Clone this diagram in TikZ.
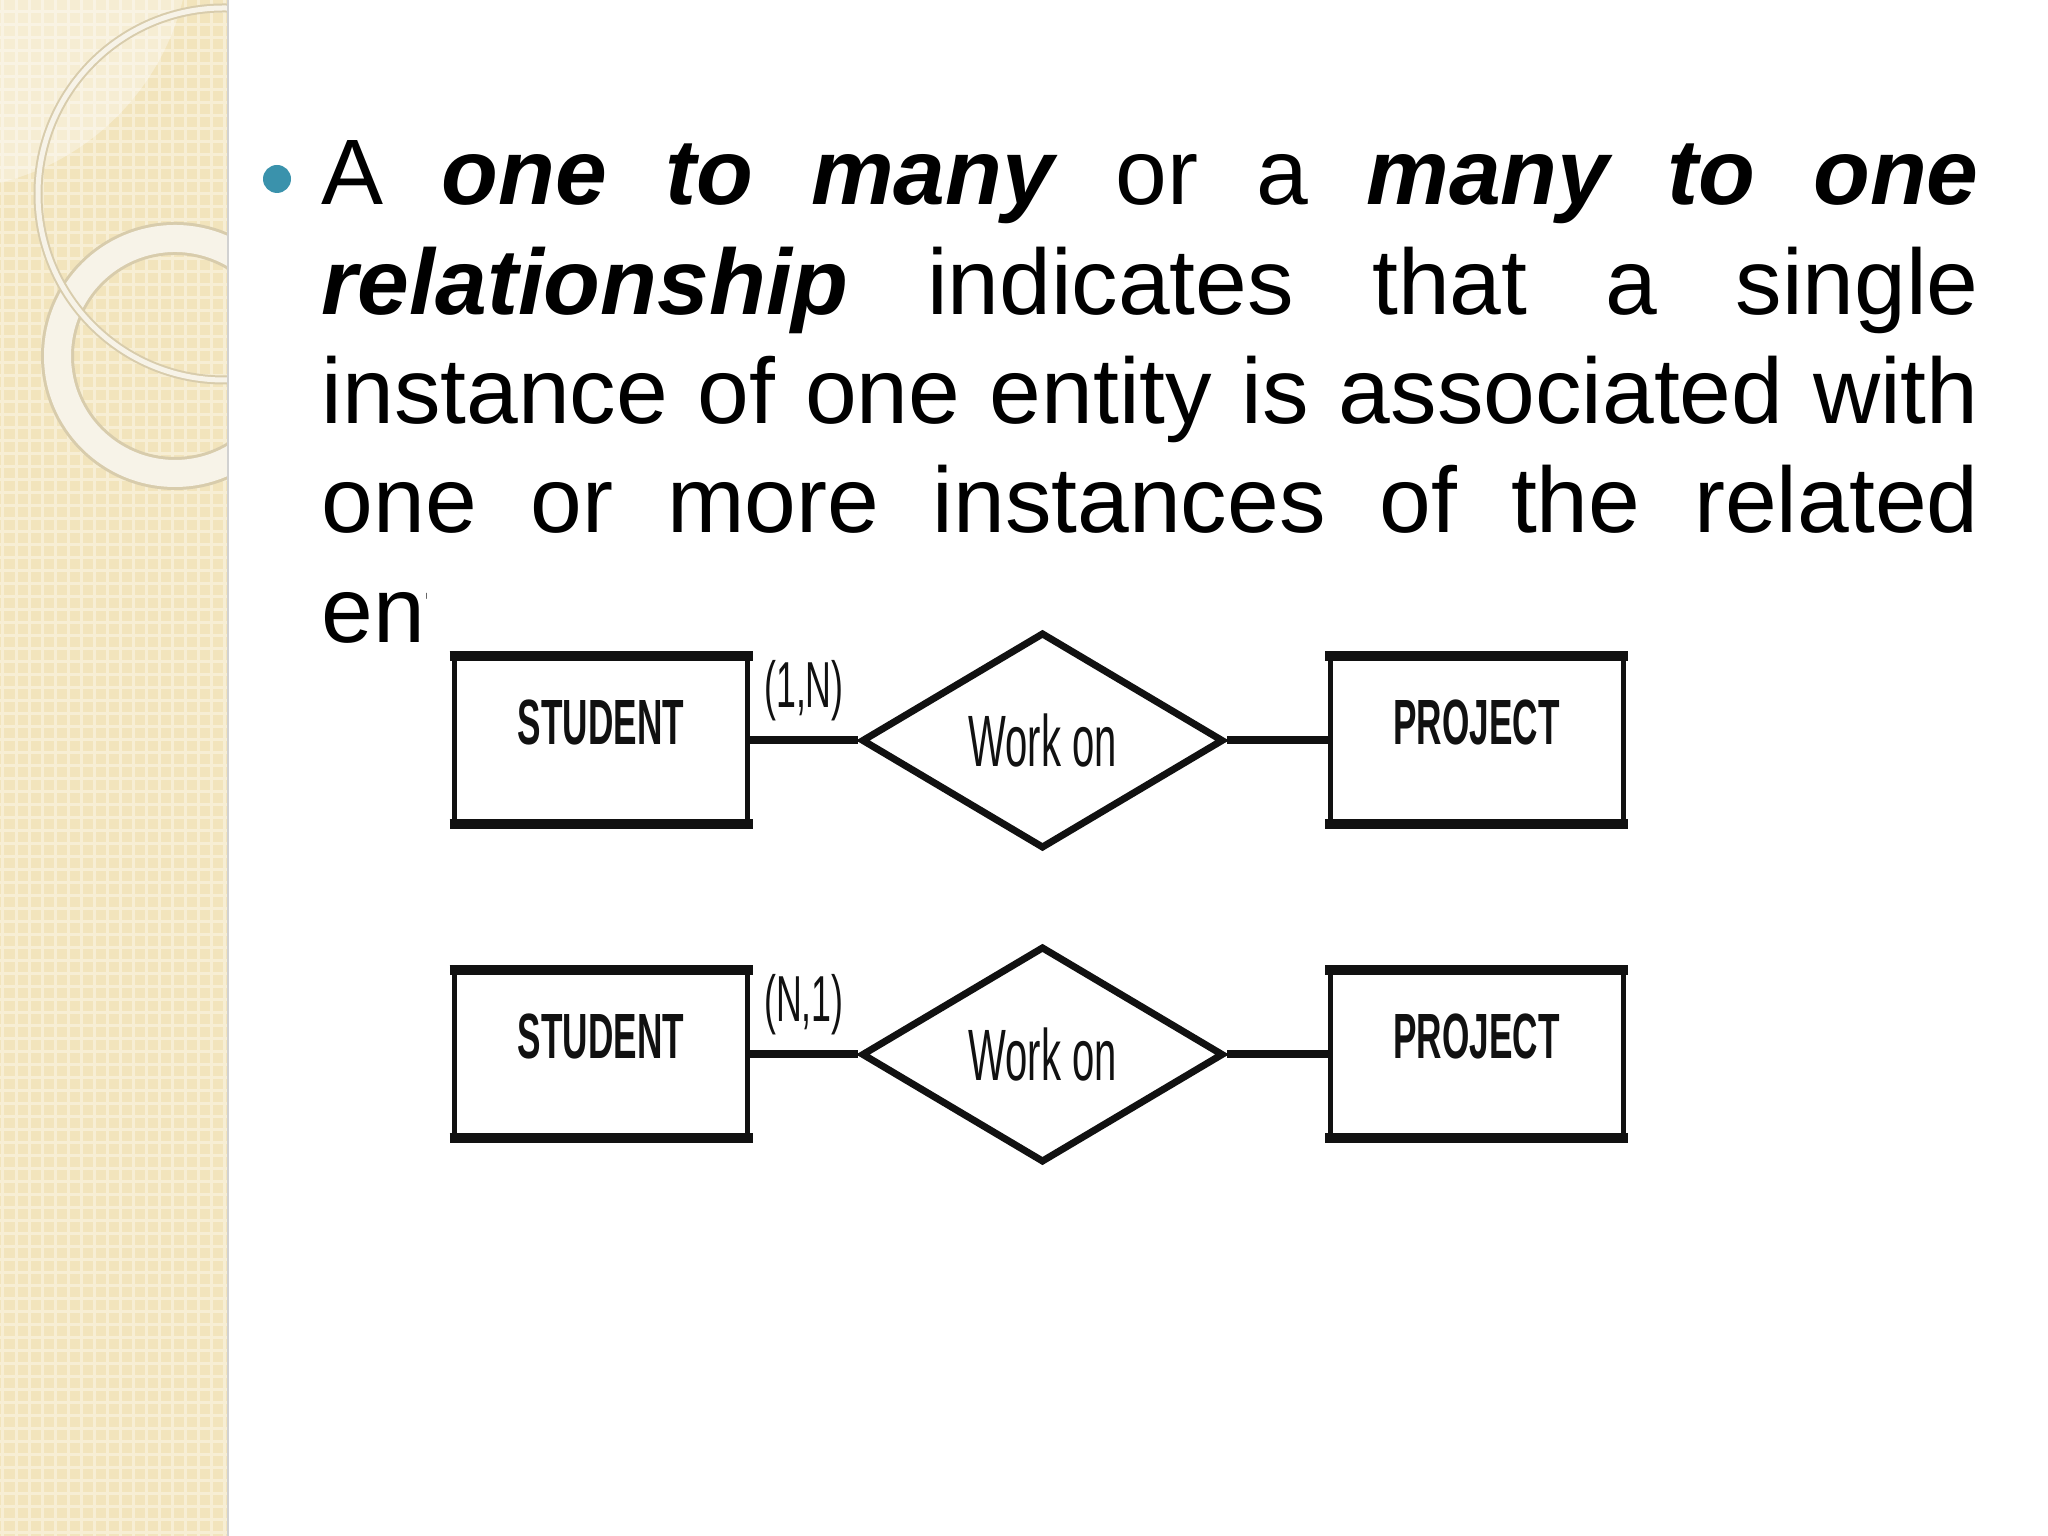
\documentclass[tikz,border=0pt]{standalone}
\usepackage{fontspec}
\setmainfont{Liberation Sans}
\newfontfamily\erfont[FakeStretch=0.55]{Liberation Sans}
\usetikzlibrary{shapes.geometric,positioning}

\definecolor{barbeige}{RGB}{242,228,188}
\definecolor{barlight}{RGB}{247,238,212}
\definecolor{ringcream}{RGB}{247,243,232}
\definecolor{ringedge}{RGB}{216,204,172}
\definecolor{bullteal}{RGB}{58,146,172}
\definecolor{erink}{RGB}{17,17,17}

\tikzset{
  entity/.style={draw=erink, line width=0.05cm, minimum width=2.93cm, minimum height=1.63cm,
    inner sep=0, text=erink, text height=0.46cm, text depth=0.37cm,
    font=\erfont\bfseries\fontsize{18.2}{20}\selectfont},
  relation/.style={diamond, draw=erink, line width=0.07cm, minimum width=3.62cm,
    minimum height=2.16cm, inner sep=0, text=erink, font=\erfont\fontsize{20.7}{22}\selectfont},
  card/.style={inner sep=0, text=erink, font=\erfont\fontsize{18.5}{20}\selectfont},
  link/.style={draw=erink, line width=0.08cm},
  lid/.style={draw=erink, line width=0.1cm, shorten <=-0.025cm, shorten >=-0.025cm},
}

\begin{document}
\begin{tikzpicture}

\useasboundingbox (0,0) rectangle (20.48,15.36);
\fill[white] (0,0) rectangle (20.48,15.36); % Slide background

% Side bar with its rings
\fill[barbeige] (0,0) rectangle (2.27,15.36);
\begin{scope}
\clip (0,0) rectangle (2.27,15.36);
\foreach \x in {0.03,0.16,...,2.3} \draw[barlight, line width=0.03cm] (\x,0) -- (\x,15.36);
\foreach \y in {0.03,0.16,...,15.4} \draw[barlight, line width=0.03cm] (0,\y) -- (2.27,\y);
\fill[white, opacity=0.35] (-0.6,15.96) circle (2.5); % Light patch - Top left
\draw[ringedge, line width=0.33cm] (1.75,11.80) circle (1.175); % Wide ring
\draw[ringcream, line width=0.27cm] (1.75,11.80) circle (1.175);
\draw[ringedge, line width=0.09cm] (2.24,13.42) circle (1.86); % Thin ring
\draw[ringcream, line width=0.05cm] (2.24,13.42) circle (1.86);
\end{scope}
\draw[black!18, line width=0.02cm] (2.28,0) -- (2.28,15.36); % Bar edge

% Bullet and body text
\fill[bullteal] (2.77,13.57) circle (0.14);
\node[anchor=base west, inner sep=0] (body) at (3.21,13.31) {\parbox[t]{16.57cm}{%
  \fontsize{26.46}{31.1}\selectfont\hyphenpenalty=10000
  A \textbf{\textit{one to many}} or a \textbf{\textit{many to one}}\linebreak
  \textbf{\textit{relationship}} indicates that a single\linebreak
  instance of one entity is associated with\linebreak
  one or more instances of the related\linebreak
  entity.}};

% Picture area (covers the end of the text)
\fill[white] (4.27,0.3) rectangle (16.7,9.79);

% One to many
\node[entity] (s1) at (6.01,7.955) {STUDENT};
\node[relation] (w1) at (10.425,7.955) {Work on};
\node[entity] (p1) at (14.765,7.955) {PROJECT};
\draw[link] (s1) -- node[card, above=0.16cm] (c1) {(1,N)} (w1);
\draw[link] (w1) -- (p1);

% Many to one
\node[entity] (s2) at (6.01,4.815) {STUDENT};
\node[relation] (w2) at (10.425,4.815) {Work on};
\node[entity] (p2) at (14.765,4.815) {PROJECT};
\draw[link] (s2) -- node[card, above=0.16cm] (c2) {(N,1)} (w2);
\draw[link] (w2) -- (p2);

% Heavier top and bottom edges of the boxes
\foreach \n in {s1,p1,s2,p2} {
  \draw[lid] (\n.north west) -- (\n.north east);
  \draw[lid] (\n.south west) -- (\n.south east);
}

\end{tikzpicture}
\end{document}
